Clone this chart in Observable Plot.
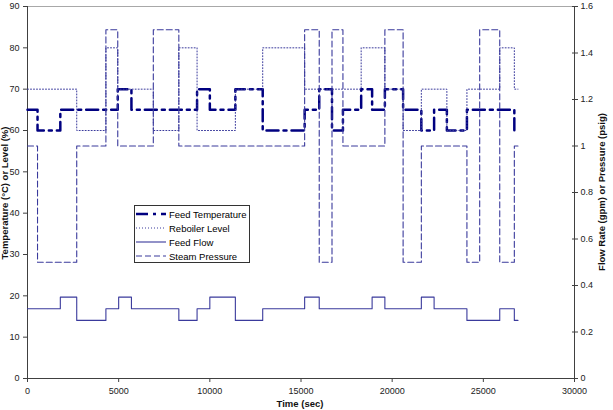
<!DOCTYPE html>
<html><head><meta charset="utf-8">
<script src="https://cdn.jsdelivr.net/npm/d3@7"></script>
<script src="https://cdn.jsdelivr.net/npm/@observablehq/plot@0.6"></script>
<style>
html,body{margin:0;padding:0;background:#fff;}
#wrap{position:relative;width:613px;height:410px;overflow:hidden;font-family:"Liberation Sans",Arial,sans-serif;color:#000;}
.atitle{position:absolute;font-weight:bold;font-size:9.5px;line-height:10px;white-space:nowrap;width:max-content;color:#111;}
#legend{position:absolute;left:134px;top:205px;width:114px;height:55px;border:1px solid #333;background:#fff;padding-top:1px;}
.lrow{display:flex;align-items:center;height:14px;font-size:9.5px;white-space:nowrap;}
.lrow svg{margin-left:1px;margin-right:3px;flex:none;}
</style></head><body><div id="wrap"></div>
<script>
// ---- data ----
const xTicks = [0, 5000, 10000, 15000, 20000, 25000, 30000];
const leftTicks = [0, 10, 20, 30, 40, 50, 60, 70, 80, 90];
const rightTicks = [0, 0.2, 0.4, 0.6, 0.8, 1.0, 1.2, 1.4, 1.6];

const feedTempTime  = [0, 550, 1800, 4950, 5700, 9300, 10000, 11400, 12900, 15200, 16000, 16700, 17300, 18300, 18900, 19600, 20600, 21600, 22300, 23000, 24100, 26700, 26900];
const feedTempValue = [65, 60, 65, 70, 65, 70, 65, 70, 60, 65, 70, 60, 65, 70, 65, 70, 65, 60, 65, 60, 65, 60, 60];

const rebLevelTime  = [0, 2700, 4300, 4950, 6900, 8300, 9300, 11400, 12900, 15200, 18300, 19600, 20600, 21600, 23000, 24100, 25900, 26700, 26900];
const rebLevelValue = [70, 60, 80, 70, 60, 80, 60, 70, 80, 70, 80, 70, 60, 70, 60, 70, 80, 70, 70];

const feedFlowTime  = [0, 1800, 2700, 4300, 5000, 5700, 8300, 9300, 10000, 11400, 12900, 15200, 16000, 18900, 19600, 21600, 22300, 24100, 25900, 26700, 26900];
const feedFlowValue = [0.3, 0.35, 0.25, 0.3, 0.35, 0.3, 0.25, 0.3, 0.35, 0.25, 0.3, 0.35, 0.3, 0.35, 0.3, 0.35, 0.3, 0.25, 0.3, 0.25, 0.25];

const steamTime  = [0, 550, 2700, 4300, 4950, 6900, 8300, 15200, 16000, 16700, 17300, 19600, 20600, 21600, 24100, 24800, 25900, 26700, 26900];
const steamValue = [1.0, 0.5, 1.0, 1.5, 1.0, 1.5, 1.0, 1.5, 0.5, 1.5, 1.0, 1.5, 0.5, 1.0, 0.5, 1.5, 0.5, 1.0, 1.0];

const seriesNames = ["Feed Temperature", "Reboiler Level", "Feed Flow", "Steam Pressure"];
const axisTitles = {x: "Time (sec)", left: "Temperature (°C) or Level (%)", right: "Flow Rate (gpm) or Pressure (psig)"};

// ---- build ----
const K = 90 / 1.6; // secondary axis (0..1.6) mapped onto primary (0..90)
const rows = (ts, vs, k) => ts.map((t, i) => ({t, v: vs[i] * k}));
const styles = [
  {stroke: "#000080", strokeWidth: 2.5, strokeDasharray: "12,5,3,5"},
  {stroke: "#3a3a9c", strokeWidth: 1, strokeDasharray: "1,2"},
  {stroke: "#3a3a9c", strokeWidth: 1.1},
  {stroke: "#3a3a9c", strokeWidth: 1.1, strokeDasharray: "6,3"}
];
const data = [
  rows(feedTempTime, feedTempValue, 1),
  rows(rebLevelTime, rebLevelValue, 1),
  rows(feedFlowTime, feedFlowValue, K),
  rows(steamTime, steamValue, K)
];
const fmtR = d => String(+((d / K).toFixed(1)));

const plot = Plot.plot({
  width: 613, height: 410,
  marginLeft: 27, marginRight: 39, marginTop: 6, marginBottom: 32,
  style: {fontFamily: '"Liberation Sans", Arial, sans-serif', fontSize: "9px", color: "#222", background: "#fff", overflow: "visible"},
  x: {domain: [0, 30000]},
  y: {domain: [0, 90]},
  marks: [
    Plot.ruleY([90], {stroke: "#a8a8a8"}),
    Plot.axisX({ticks: xTicks, tickSize: 4, tickPadding: 5, tickFormat: d => String(d), label: null, stroke: "#404040"}),
    Plot.axisY({anchor: "left", ticks: leftTicks, tickSize: 4, tickPadding: 4, tickFormat: d => String(d), label: null, stroke: "#404040"}),
    Plot.axisY({anchor: "right", ticks: rightTicks.map(v => v * K), tickSize: 6, dx: -3, tickPadding: 3, tickFormat: fmtR, label: null, stroke: "#404040"}),
    Plot.ruleX([0, 30000], {stroke: "#404040"}),
    Plot.ruleY([0], {stroke: "#404040"}),
    ...data.map((d, i) => Plot.line(d, {x: "t", y: "v", curve: "step-after", ...styles[i]}))
  ]
});
const wrap = document.getElementById("wrap");
wrap.appendChild(plot);

// axis titles
function addTitle(text, css) {
  const d = document.createElement("div");
  d.className = "atitle";
  d.textContent = text;
  Object.assign(d.style, css);
  wrap.appendChild(d);
}
addTitle(axisTitles.left, {left: "5px", top: "193px", transform: "translate(-50%,-50%) rotate(-90deg)"});
addTitle(axisTitles.right, {left: "602px", top: "192px", transform: "translate(-50%,-50%) rotate(-90deg)"});
addTitle(axisTitles.x, {left: "300px", top: "399px", transform: "translateX(-50%)"});

// legend
const leg = document.createElement("div");
leg.id = "legend";
seriesNames.forEach((name, i) => {
  const r = document.createElement("div");
  r.className = "lrow";
  const s = styles[i];
  r.innerHTML = `<svg width="30" height="6"><line x1="0" x2="30" y1="3" y2="3" stroke="${s.stroke}" stroke-width="${s.strokeWidth}" ${s.strokeDasharray ? `stroke-dasharray="${s.strokeDasharray}"` : ""}/></svg><span>${name}</span>`;
  leg.appendChild(r);
});
wrap.appendChild(leg);
</script>
</body></html>
